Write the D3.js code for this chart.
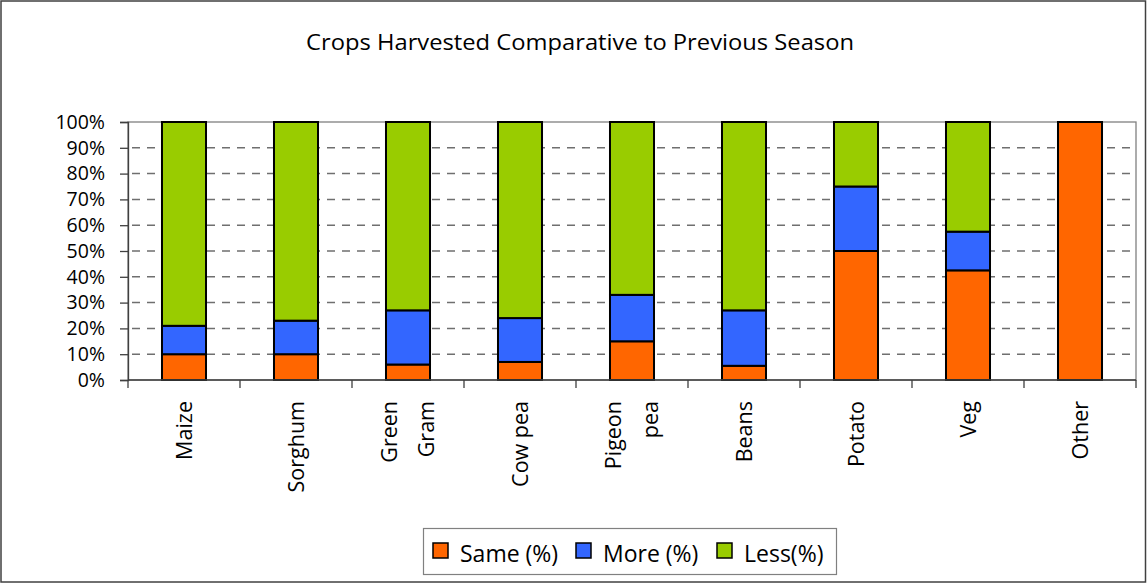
<!DOCTYPE html>
<html>
<head>
<meta charset="utf-8">
<script src="https://cdn.jsdelivr.net/npm/d3@7"></script>
<style>
  html, body { margin: 0; padding: 0; background: #fff; }
  svg { display: block; font-family: "Open Sans", "Noto Sans", sans-serif; }
</style>
</head>
<body>
<svg id="chart" width="1147" height="584"></svg>
<script>
// Crop categories and share of households per outcome (%)
const categories = ["Maize", "Sorghum", "Green Gram", "Cow pea", "Pigeon pea", "Beans", "Potato", "Veg", "Other"];
const tickLabels = [["Maize"], ["Sorghum"], ["Green", "Gram"], ["Cow pea"], ["Pigeon", "pea"], ["Beans"], ["Potato"], ["Veg"], ["Other"]];
const sameValues = [10, 10, 6, 7, 15, 5.5, 50, 42.5, 100];
const moreValues = [11, 13, 21, 17, 18, 21.5, 25, 15, 0];
const lessValues = [79, 77, 73, 76, 67, 73, 25, 42.5, 0];
const seriesNames = ["Same (%)", "More (%)", "Less(%)"];
const seriesColors = ["#FF6600", "#3366FF", "#99CC00"];
const yTicks = [0, 10, 20, 30, 40, 50, 60, 70, 80, 90, 100];

const svg = d3.select("#chart");
const W = 1147, H = 584;
const plot = { left: 128, right: 1136, top: 122, bottom: 380 };

// Outer chart frame
svg.append("rect")
  .attr("x", 1).attr("y", 1).attr("width", W - 2.5).attr("height", H - 3)
  .attr("fill", "#fff").attr("stroke", "#404040").attr("stroke-width", 1.5);

// Title
svg.append("text")
  .attr("x", 580).attr("y", 50)
  .attr("text-anchor", "middle")
  .attr("font-size", 21)
  .attr("textLength", 548).attr("lengthAdjust", "spacingAndGlyphs")
  .attr("fill", "#000")
  .text("Crops Harvested Comparative to Previous Season");

const x = d3.scaleBand()
  .domain(categories)
  .range([plot.left, plot.right])
  .paddingInner(0.607)
  .paddingOuter(0.3035);

const y = d3.scaleLinear().domain([0, 100]).range([plot.bottom, plot.top]);

// Dashed gridlines
svg.append("g")
  .selectAll("line")
  .data(yTicks.filter(d => d > 0 && d < 100))
  .join("line")
  .attr("x1", plot.left).attr("x2", plot.right)
  .attr("y1", d => y(d)).attr("y2", d => y(d))
  .attr("stroke", "#6f6f6f").attr("stroke-width", 1.5)
  .attr("stroke-dasharray", "8,7")
  .attr("stroke-dashoffset", -4);

// Plot area border
svg.append("rect")
  .attr("x", plot.left).attr("y", plot.top)
  .attr("width", plot.right - plot.left).attr("height", plot.bottom - plot.top)
  .attr("fill", "none").attr("stroke", "#808080").attr("stroke-width", 1.3);

// Stacked bars
const rows = categories.map((c, i) => ({ cat: c, same: sameValues[i], more: moreValues[i], less: lessValues[i] }));
const stack = d3.stack().keys(["same", "more", "less"]);
const layers = stack(rows);

svg.append("g")
  .selectAll("g")
  .data(layers)
  .join("g")
  .attr("fill", (d, i) => seriesColors[i])
  .selectAll("rect")
  .data(d => d.filter(s => s[1] - s[0] > 0))
  .join("rect")
  .attr("x", d => x(d.data.cat))
  .attr("width", x.bandwidth())
  .attr("y", d => y(d[1]))
  .attr("height", d => y(d[0]) - y(d[1]))
  .attr("stroke", "#000")
  .attr("stroke-width", 2);

// Y axis
const yAxis = svg.append("g")
  .attr("transform", `translate(${plot.left},0)`)
  .call(d3.axisLeft(y).tickValues(yTicks).tickFormat(d => d + "%").tickSize(8).tickPadding(15));
yAxis.select(".domain").attr("stroke", "#404040").attr("stroke-width", 1.3);
yAxis.selectAll(".tick line").attr("stroke", "#404040").attr("stroke-width", 1.3);
yAxis.selectAll(".tick text")
  .attr("font-size", 19.5)
  .attr("font-family", "'Open Sans', sans-serif")
  .attr("fill", "#000");

// X axis baseline and category-boundary ticks
const gap = x.step() - x.bandwidth();
const boundaries = categories.map(c => x(c) - gap / 2).concat([x(categories[categories.length - 1]) + x.bandwidth() + gap / 2]);
const xAxis = svg.append("g");
xAxis.append("line")
  .attr("x1", plot.left).attr("x2", plot.right)
  .attr("y1", plot.bottom).attr("y2", plot.bottom)
  .attr("stroke", "#404040").attr("stroke-width", 1.3);
xAxis.selectAll("line.tk")
  .data(boundaries)
  .join("line")
  .attr("class", "tk")
  .attr("x1", d => d).attr("x2", d => d)
  .attr("y1", plot.bottom).attr("y2", plot.bottom + 8)
  .attr("stroke", "#404040").attr("stroke-width", 1.3);

// Rotated category labels
const labelG = xAxis.selectAll("g.lbl")
  .data(categories)
  .join("g")
  .attr("class", "lbl")
  .attr("transform", d => `translate(${x(d) + x.bandwidth() / 2},401) rotate(-90)`);
labelG.append("text")
  .attr("text-anchor", "end")
  .attr("font-size", 21.5)
  .attr("fill", "#000")
  .each(function (d, i) {
    const lines = tickLabels[i];
    const t = d3.select(this);
    const spacing = 36.5;
    lines.forEach((ln, j) => {
      const off = (j - (lines.length - 1) / 2) * spacing;
      t.append("tspan")
        .attr("x", 0)
        .attr("y", off)
        .attr("dy", "0.35em")
        .text(ln);
    });
  });

// Legend
const legend = svg.append("g");
legend.append("rect")
  .attr("x", 423.5).attr("y", 528.5).attr("width", 413).attr("height", 46)
  .attr("fill", "#fff").attr("stroke", "#808080").attr("stroke-width", 1.2);
const legendX = [433, 576, 717];
seriesNames.forEach((name, i) => {
  legend.append("rect")
    .attr("x", legendX[i]).attr("y", 543).attr("width", 15).attr("height", 15)
    .attr("fill", seriesColors[i]).attr("stroke", "#000").attr("stroke-width", 1.5);
  legend.append("text")
    .attr("x", legendX[i] + 27).attr("y", 562)
    .attr("font-size", 23)
    .attr("fill", "#000")
    .text(name);
});
</script>
</body>
</html>
